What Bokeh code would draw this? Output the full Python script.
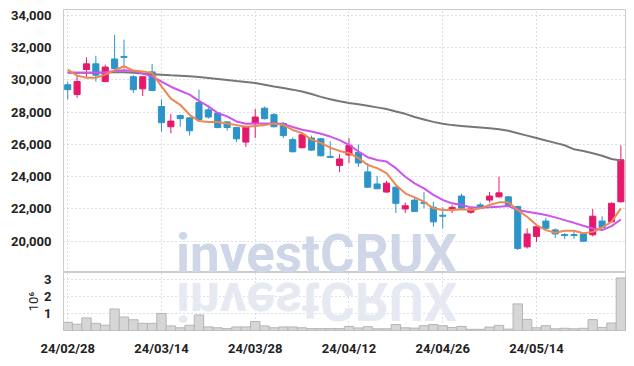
from bokeh.plotting import figure
from bokeh.models import Range1d, FixedTicker, NumeralTickFormatter, Div, ColumnDataSource
from bokeh.layouts import column
from bokeh.embed import file_html
from bokeh.resources import INLINE

dates = ["24/02/28", "24/02/29", "24/03/04", "24/03/05", "24/03/06", "24/03/07", "24/03/08", "24/03/11", "24/03/12", "24/03/13",
         "24/03/14", "24/03/15", "24/03/18", "24/03/19", "24/03/20", "24/03/21", "24/03/22", "24/03/25", "24/03/26", "24/03/27",
         "24/03/28", "24/03/29", "24/04/01", "24/04/02", "24/04/03", "24/04/04", "24/04/05", "24/04/08", "24/04/09", "24/04/11",
         "24/04/12", "24/04/15", "24/04/16", "24/04/17", "24/04/18", "24/04/19", "24/04/22", "24/04/23", "24/04/24", "24/04/25",
         "24/04/26", "24/04/29", "24/04/30", "24/05/02", "24/05/03", "24/05/07", "24/05/08", "24/05/09", "24/05/10", "24/05/13",
         "24/05/14", "24/05/16", "24/05/17", "24/05/20", "24/05/21", "24/05/22", "24/05/23", "24/05/24", "24/05/27", "24/05/28"]

open_ = [29700, 29100, 30650, 31000, 29900, 31300, 31420, 30200, 29450, 30500,
         28350, 27100, 27800, 27650, 28600, 28150, 27950, 27400, 27050, 26150,
         27300, 28250, 27850, 27300, 26300, 25800, 26400, 26350, 25250, 24700,
         25350, 25500, 24300, 23550, 23050, 23350, 22000, 22550, 22400, 22100,
         21600, 21950, 22800, 21800, 22250, 22550, 22750, 22750, 22150, 19650,
         20300, 21250, 20700, 20400, 20400, 20450, 20400, 21250, 21200, 22450]
close = [29400, 29900, 31000, 30300, 30800, 30700, 31400, 29400, 30200, 29350,
         27350, 27450, 27600, 26850, 27550, 27700, 27050, 27050, 26350, 27100,
         27700, 27600, 27100, 26550, 25550, 26600, 25650, 25300, 25200, 25100,
         25950, 24850, 23350, 23250, 23600, 22350, 22200, 21850, 22350, 21200,
         21550, 22100, 22050, 22000, 22050, 22800, 23000, 22200, 19550, 20450,
         20900, 20800, 20450, 20350, 20350, 20000, 21550, 20850, 22350, 25050]
high = [29900, 30250, 31400, 31500, 30950, 32800, 32500, 30300, 30200, 31000,
        28800, 27900, 27850, 27700, 29400, 28400, 28000, 27450, 27100, 27150,
        28200, 28350, 27950, 27400, 26450, 26650, 26550, 26400, 26200, 25400,
        26400, 26000, 24850, 24050, 23750, 23400, 22400, 22700, 23050, 22450,
        22100, 22250, 22950, 22050, 22400, 23050, 24000, 22800, 22200, 20800,
        20900, 21450, 20800, 20500, 20600, 20450, 22000, 21550, 22400, 25950]
low = [28800, 28900, 30200, 29900, 29900, 30600, 30700, 29200, 29000, 29300,
       26800, 26700, 27100, 26550, 27400, 27600, 27000, 26850, 26150, 25850,
       26400, 27550, 27050, 26400, 25500, 25750, 25600, 25250, 25150, 24300,
       24850, 24600, 23300, 23250, 23000, 21750, 21750, 21850, 22050, 20900,
       20800, 21750, 22000, 21700, 22000, 22400, 22700, 22150, 19450, 19550,
       19950, 20700, 20200, 20150, 20150, 20000, 20300, 20800, 21200, 22400]

ma5 = [30640, 30270, 30140, 30140, 30330, 30600, 30850, 30580, 30530, 30430,
       29600, 28840, 28460, 27840, 27450, 27400, 27400, 27300, 27200, 27100,
       27150, 27200, 27300, 27200, 26900, 26700, 26300, 26100, 25800, 25600,
       25460, 25170, 24730, 24530, 24220, 23490, 22970, 22720, 22450, 22040,
       21930, 21930, 21980, 21930, 22040, 22250, 22410, 22410, 21930, 21520,
       21000, 20690, 20520, 20650, 20650, 20490, 20580, 20850, 21200, 22040]
ma20 = [30470, 30450, 30450, 30450, 30480, 30550, 30600, 30550, 30400, 30220,
        29900, 29580, 29330, 29090, 28700, 28360, 27950, 27740, 27430, 27280,
        27300, 27300, 27300, 27280, 27080, 26910, 26800, 26660, 26490, 26270,
        25980, 25560, 25210, 25040, 24940, 24530, 24000, 23590, 23280, 22870,
        22560, 22350, 22250, 22100, 22080, 22100, 22140, 22180, 21930, 21830,
        21730, 21620, 21480, 21310, 21140, 20960, 20790, 20690, 20940, 21350]
ma60 = [30450, 30450, 30450, 30450, 30460, 30480, 30480, 30450, 30400, 30360,
        30330, 30290, 30260, 30230, 30180, 30120, 30060, 30000, 29930, 29870,
        29810, 29710, 29600, 29500, 29400, 29290, 29130, 28950, 28800, 28680,
        28570, 28500, 28400, 28300, 28200, 28050, 27900, 27700, 27550, 27400,
        27280, 27200, 27150, 27100, 27050, 27000, 26950, 26850, 26700, 26550,
        26400, 26250, 26100, 25950, 25700, 25600, 25450, 25300, 25100, 25000]

volume = [0.48, 0.37, 0.74, 0.42, 0.31, 1.26, 0.79, 0.63, 0.42, 0.42,
          1.00, 0.27, 0.16, 0.31, 0.91, 0.21, 0.16, 0.11, 0.21, 0.21,
          0.53, 0.27, 0.16, 0.21, 0.21, 0.16, 0.11, 0.11, 0.11, 0.11,
          0.24, 0.15, 0.22, 0.10, 0.10, 0.35, 0.16, 0.14, 0.28, 0.35,
          0.28, 0.18, 0.24, 0.07, 0.07, 0.20, 0.30, 0.08, 1.56, 0.65,
          0.16, 0.28, 0.10, 0.13, 0.10, 0.13, 0.64, 0.18, 0.44, 3.08]

price_ticks = [20000, 22000, 24000, 26000, 28000, 30000, 32000, 34000]
vol_ticks = [1, 2, 3]
date_tick_idx = [0, 10, 20, 30, 40, 50]
watermark = "investCRUX"

RED = "#e6186c"
BLUE = "#2c94c8"
GRID = "#b9c0d8"
TICK_FONT = "Roboto"

n = len(dates)
idx = list(range(n))
colors = [RED if c > o else BLUE for o, c in zip(open_, close)]
tops = [max(o, c) for o, c in zip(open_, close)]
bots = [min(o, c) for o, c in zip(open_, close)]
tops = [t if t - b >= 60 else b + 60 for t, b in zip(tops, bots)]

src = ColumnDataSource(dict(x=idx, open=open_, close=close, high=high, low=low,
                            top=tops, bottom=bots, color=colors, vol=volume,
                            ma5=ma5, ma20=ma20, ma60=ma60))

xr = Range1d(-0.45, 59.6)

p = figure(width=618, height=264, x_range=xr, y_range=Range1d(18060, 34370),
           output_backend="svg", toolbar_location=None,
           min_border_left=53, min_border_right=0, min_border_top=1, min_border_bottom=0,
           outline_line_color="#cccccc", background_fill_color="white", border_fill_color="white")
p.xaxis.visible = False
p.segment(x0="x", y0="low", x1="x", y1="high", color="color", line_width=1, source=src)
p.vbar(x="x", width=0.65, top="top", bottom="bottom", fill_color="color", line_color="color", source=src)
p.line("x", "ma60", color="#777777", line_width=2, source=src)
p.line("x", "ma20", color="#cc55ee", line_width=2, source=src)
p.line("x", "ma5", color="#ee8850", line_width=2, source=src)

p.yaxis.ticker = FixedTicker(ticks=price_ticks)
p.yaxis.formatter = NumeralTickFormatter(format="0,0")
p.xgrid.ticker = FixedTicker(ticks=date_tick_idx)
p.yaxis.axis_line_color = None
p.yaxis.major_tick_line_color = None
p.yaxis.minor_tick_line_color = None
p.yaxis.major_label_text_font = TICK_FONT
p.yaxis.major_label_text_font_size = "13px"
p.yaxis.major_label_text_font_style = "bold"
p.yaxis.major_label_text_color = "#222222"
p.yaxis.major_label_standoff = 6
p.grid.grid_line_color = GRID
p.grid.grid_line_dash = "1 3"
p.grid.grid_line_width = 1

pv = figure(width=618, height=86, x_range=xr, y_range=Range1d(0, 3.4),
            output_backend="svg", toolbar_location=None,
            min_border_left=53, min_border_right=0, min_border_top=0, min_border_bottom=21,
            outline_line_color="#cccccc", background_fill_color="white", border_fill_color="white")
pv.vbar(x="x", width=1.0, top="vol", bottom=0, fill_color="#d6d6d6", line_color="#b5b5b5", source=src)
pv.yaxis.ticker = FixedTicker(ticks=vol_ticks)
pv.xaxis.ticker = FixedTicker(ticks=date_tick_idx)
pv.xaxis.major_label_overrides = {i: dates[i] for i in date_tick_idx}
pv.yaxis.axis_label = "10\u2076"
pv.yaxis.axis_label_text_font = TICK_FONT
pv.yaxis.axis_label_text_font_size = "13px"
pv.yaxis.axis_label_text_font_style = "normal"
pv.yaxis.axis_label_text_color = "#222222"
pv.yaxis.axis_label_standoff = 0
for ax in [pv.xaxis, pv.yaxis]:
    ax.axis_line_color = None
    ax.major_tick_line_color = None
    ax.minor_tick_line_color = None
    ax.major_label_text_font = TICK_FONT
    ax.major_label_text_font_size = "13px"
    ax.major_label_text_font_style = "bold"
    ax.major_label_text_color = "#222222"
pv.yaxis.major_label_standoff = 6
pv.xaxis.major_label_standoff = 4
pv.grid.grid_line_color = GRID
pv.grid.grid_line_dash = "1 3"
pv.grid.grid_line_width = 1

wm_style = ("position:absolute;left:163px;height:40px;font-family:Roboto;font-weight:bold;font-size:53px;"
            "line-height:40px;white-space:nowrap;pointer-events:none;")
overlay = Div(text=(f'<div style="{wm_style}top:221px;color:#cfd6e7;">{watermark}</div>'
                    f'<div style="{wm_style}top:268px;color:#e6e9f2;transform:scaleY(-1);">{watermark}</div>'),
              width=1, height=1, styles={"position": "absolute", "left": "0px", "top": "0px"})

layout = column(p, pv, overlay, styles={"position": "absolute", "left": "8px", "top": "8px"})

open("out.html", "w").write(file_html(layout, INLINE))
